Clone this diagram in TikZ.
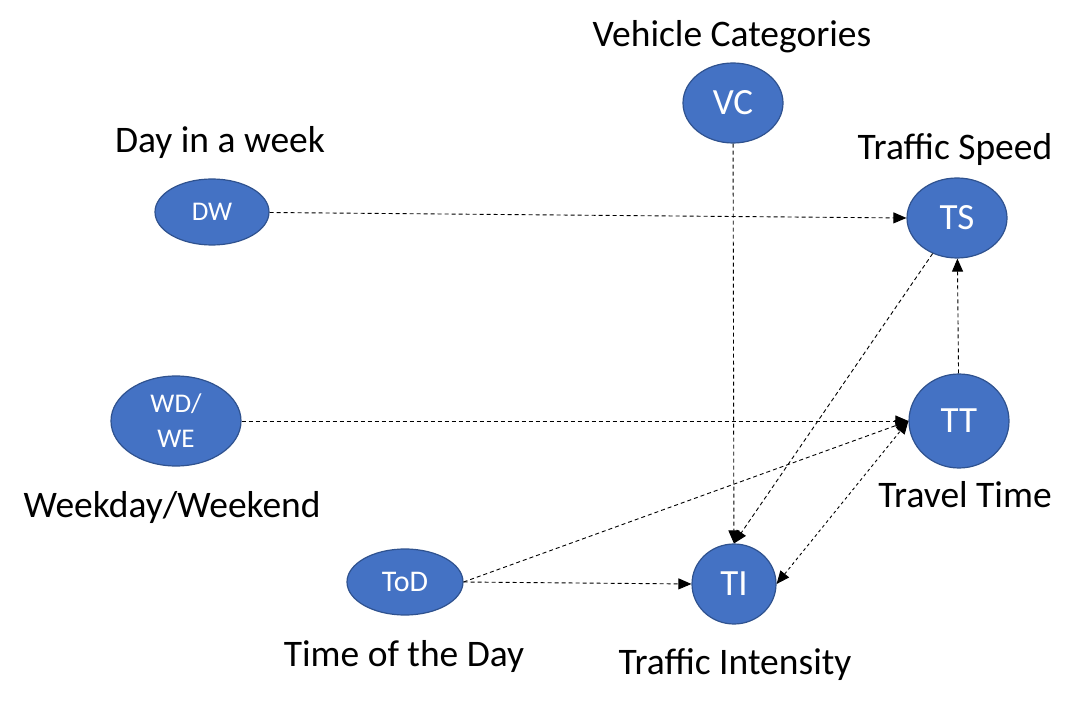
\documentclass[tikz,border=0pt]{standalone}
\usepackage{fontspec}
\setmainfont{Carlito}
\usetikzlibrary{shapes.geometric,arrows.meta}
\definecolor{NodeBlue}{RGB}{68,114,196}
\definecolor{NodeEdge}{RGB}{47,82,143}

\begin{document}
\begin{tikzpicture}[
x=1pt,y=-1pt,
var/.style={
ellipse,draw=NodeEdge,line width=1.2pt,fill=NodeBlue,
inner sep=0pt,text=white,align=center,
font=\fontsize{37}{38}\selectfont
},
small/.style={font=\fontsize{27}{35}\selectfont},
lbl/.style={font=\fontsize{37.5}{40}\selectfont},
arrow/.style={-{Triangle[length=13pt,width=11pt]},line width=0.9pt,
dash pattern=on 4pt off 3pt},
both/.style={{Triangle[length=13pt,width=11pt]}-{Triangle[length=13pt,width=11pt]},
line width=0.9pt,dash pattern=on 3pt off 3pt}
]
\useasboundingbox (0,0) rectangle (1076,708);

\node[var,minimum width=100pt,minimum height=80pt] (vc) at (733,103) {VC};
\node[var,small,minimum width=114pt,minimum height=66pt] (dw) at (212,212) {DW};
\node[var,minimum width=100pt,minimum height=80pt] (ts) at (957,218) {TS};
\node[var,small,minimum width=130pt,minimum height=90pt] (wdwe) at (176,421) {WD/\\WE};
\node[var,minimum width=100pt,minimum height=94pt] (tt) at (959,421) {TT};
\node[var,small,font=\fontsize{30}{34}\selectfont,minimum width=116pt,minimum height=66pt] (tod) at (405,582) {ToD};
\node[var,minimum width=84pt,minimum height=80pt] (ti) at (734,584) {TI};

\node[lbl] (vclbl) at (732,37) {Vehicle Categories};
\node[lbl] (dwlbl) at (220,143) {Day in a week};
\node[lbl] (tslbl) at (955,150) {Traffic Speed};
\node[lbl] (wdwelbl) at (172,508) {Weekday/Weekend};
\node[lbl] (ttlbl) at (965,495) {Travel Time};
\node[lbl] (todlbl) at (404,656) {Time of the Day};
\node[lbl] (tilbl) at (735,665) {Traffic Intensity};

\draw[arrow] (dw) -- (ts.west);
\draw[arrow] (vc) -- (ti);
\draw[arrow] (ts) -- (ti.north);
\draw[arrow] (tt) -- (ts);
\draw[arrow] (wdwe) -- (tt.west);
\draw[arrow] (tod.east) -- (tt.west);
\draw[arrow] (tod.east) -- (ti.west);
\draw[both] (ti.east) -- (tt.west);

\end{tikzpicture}
\end{document}
